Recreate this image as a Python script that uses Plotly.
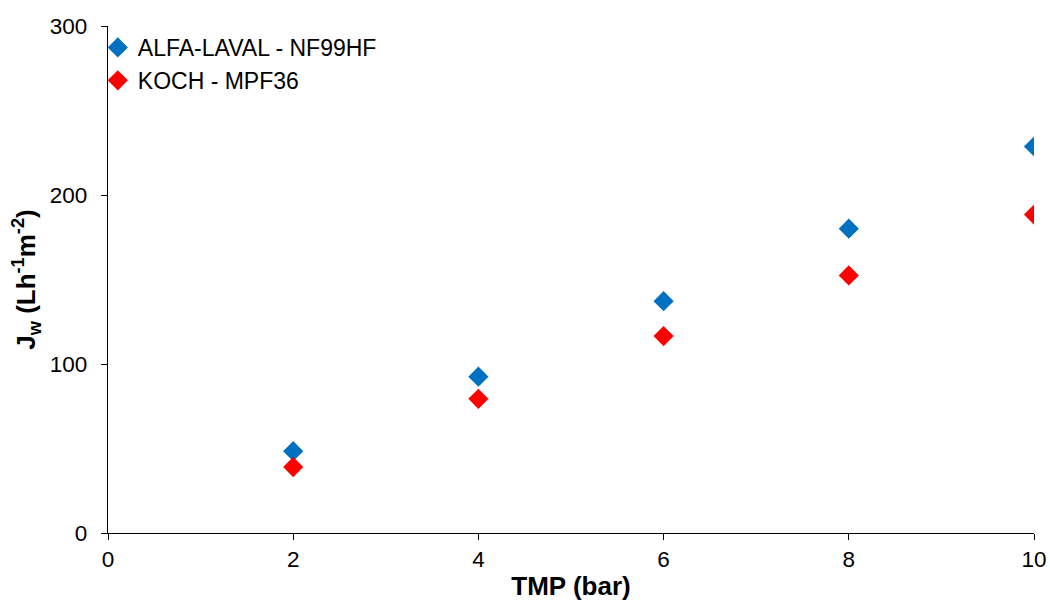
import plotly.graph_objects as go

# Transmembrane pressure (bar)
tmp_bar = [2, 4, 6, 8, 10]

# Pure water flux, L h^-1 m^-2
flux_alfa_laval = [48.4, 92.5, 137.2, 180.1, 228.7]
flux_koch = [39.0, 79.4, 116.5, 152.4, 188.4]

series_names = ["ALFA-LAVAL - NF99HF", "KOCH - MPF36"]
series_colors = ["#0070C0", "#FF0000"]

x_ticks = [0, 2, 4, 6, 8, 10]
y_ticks = [0, 100, 200, 300]

FONT = "Liberation Sans, Arial, sans-serif"

fig = go.Figure()
for name, values, color in zip(series_names, [flux_alfa_laval, flux_koch], series_colors):
    fig.add_trace(go.Scatter(
        x=tmp_bar, y=values, mode="markers", name=name,
        marker=dict(symbol="diamond", size=15.5, color=color, line=dict(width=0)),
    ))

axis_common = dict(
    showline=True, linecolor="black", linewidth=1.3,
    ticks="outside", tickcolor="black", ticklen=6, tickwidth=1.3,
    showgrid=False, zeroline=False, automargin=False,
    tickfont=dict(family=FONT, size=22.5, color="black"),
)

fig.update_layout(
    width=1050, height=603,
    margin=dict(l=108, r=16, t=26, b=70),
    paper_bgcolor="white", plot_bgcolor="white",
    font=dict(family=FONT, color="black"),
    showlegend=True,
    legend=dict(
        x=-0.011, y=1.0, xanchor="left", yanchor="top",
        font=dict(family=FONT, size=23, color="black"),
        bgcolor="rgba(0,0,0,0)", itemwidth=30, tracegroupgap=0,
    ),
    xaxis=dict(
        range=[0, 10], tickvals=x_ticks, ticktext=[str(v) for v in x_ticks],
        title=dict(text="<b>TMP (bar)</b>", font=dict(family=FONT, size=26), standoff=5),
        **axis_common,
    ),
    yaxis=dict(
        range=[0, 300], tickvals=y_ticks, ticktext=[str(v) for v in y_ticks],
        ticklabelstandoff=9,
        title=dict(text="<b>J<sub>w</sub> (Lh<sup>-1</sup>m<sup>-2</sup>)</b>",
                   font=dict(family=FONT, size=26), standoff=6),
        **axis_common,
    ),
)

fig.write_html("out.html")
